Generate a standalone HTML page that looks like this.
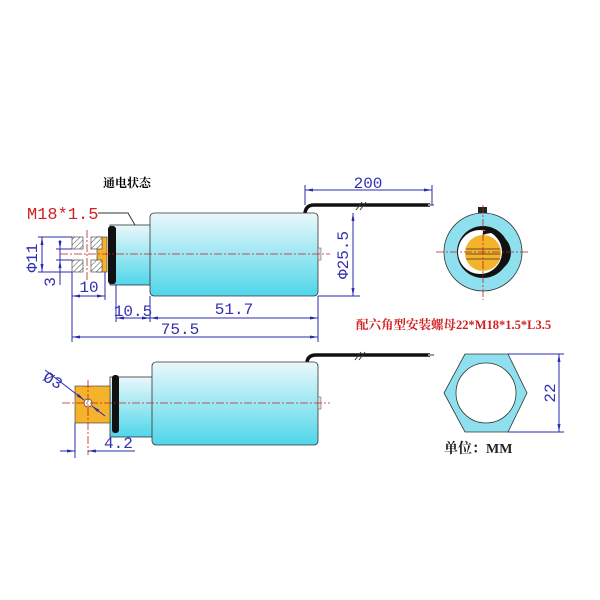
<!DOCTYPE html>
<html><head><meta charset="utf-8"><style>
body{margin:0;background:#fff;width:600px;height:600px;overflow:hidden}
svg{display:block}
.d{stroke:#2a2ab0;stroke-width:1;fill:none}
.t{font-family:"Liberation Mono","Liberation Serif",serif;fill:#3030b0;font-size:16px}
.r{stroke:#c02020;stroke-width:0.8;stroke-dasharray:8,2,2,2;fill:none}
</style></head><body>
<svg width="600" height="600" viewBox="0 0 600 600">
<defs>
<linearGradient id="g" x1="0" y1="0" x2="0" y2="1">
<stop offset="0" stop-color="#eaf8fb"/><stop offset="1" stop-color="#4fd6ea"/></linearGradient>
<pattern id="h" width="4" height="4" patternUnits="userSpaceOnUse" patternTransform="rotate(45)"><rect width="4" height="4" fill="#fff"/><line x1="0" y1="0" x2="0" y2="4" stroke="#444" stroke-width="1"/></pattern>
<marker id="a" markerWidth="8" markerHeight="6" refX="8" refY="3" orient="auto-start-reverse"><path d="M0,1.5L8,3L0,4.5z" fill="#2a2ab0"/></marker>
</defs>
<text x="103" y="187" font-family="Liberation Serif,'Noto Serif CJK SC',serif" font-size="12" font-weight="bold">通电状态</text>
<path d="M305,213 Q306,205 314,205 L430,205" stroke="#111" stroke-width="3.5" fill="none"/>
<line x1="428" y1="205" x2="434" y2="205" stroke="#999" stroke-width="2"/>
<path d="M356,210 L362,202 M360,210 L366,202" stroke="#333" stroke-width="1"/>
<rect x="110" y="225" width="42" height="60" fill="url(#g)" stroke="#333" stroke-width="0.8"/>
<rect x="108" y="226" width="8" height="58" rx="3" fill="#111"/>
<rect x="150" y="213" width="168" height="83" rx="4" fill="url(#g)" stroke="#333" stroke-width="0.8"/>
<rect x="318" y="248" width="3" height="12" fill="#ddd" stroke="#555" stroke-width="0.5"/>
<rect x="97" y="237" width="10" height="35" fill="#f4b32a" stroke="#333" stroke-width="0.6"/>
<rect x="72" y="237" width="11" height="12" fill="url(#h)" stroke="#333" stroke-width="0.6"/>
<rect x="72" y="260" width="11" height="12" fill="url(#h)" stroke="#333" stroke-width="0.6"/>
<rect x="91" y="237" width="11" height="12" fill="url(#h)" stroke="#333" stroke-width="0.6"/>
<rect x="91" y="260" width="11" height="12" fill="url(#h)" stroke="#333" stroke-width="0.6"/>
<line x1="60" y1="254" x2="330" y2="254" class="r"/>
<line x1="87" y1="230" x2="87" y2="280" class="r"/>
<g class="d">
<line x1="38" y1="237" x2="72" y2="237"/><line x1="38" y1="272" x2="72" y2="272"/>
<line x1="42" y1="237" x2="42" y2="272" marker-start="url(#a)" marker-end="url(#a)"/>
<line x1="56" y1="249" x2="72" y2="249"/><line x1="56" y1="260" x2="72" y2="260"/>
<line x1="60" y1="240" x2="60" y2="249" marker-end="url(#a)"/><line x1="60" y1="270" x2="60" y2="260" marker-end="url(#a)"/>
<line x1="60" y1="249" x2="60" y2="285"/>
<line x1="72" y1="272" x2="72" y2="342"/><line x1="105" y1="272" x2="105" y2="300"/>
<line x1="72" y1="296" x2="105" y2="296" marker-start="url(#a)" marker-end="url(#a)"/>
<line x1="116" y1="285" x2="116" y2="322"/><line x1="150" y1="296" x2="150" y2="322"/>
<line x1="318" y1="296" x2="318" y2="342"/>
<line x1="116" y1="318" x2="150" y2="318" marker-start="url(#a)" marker-end="url(#a)"/>
<line x1="150" y1="318" x2="318" y2="318" marker-start="url(#a)" marker-end="url(#a)"/>
<line x1="72" y1="337" x2="318" y2="337" marker-start="url(#a)" marker-end="url(#a)"/>
<line x1="305" y1="185" x2="305" y2="205"/><line x1="432" y1="185" x2="432" y2="205"/>
<line x1="305" y1="190" x2="432" y2="190" marker-start="url(#a)" marker-end="url(#a)"/>
<line x1="318" y1="296" x2="360" y2="296"/>
<line x1="353" y1="213" x2="353" y2="296" marker-start="url(#a)" marker-end="url(#a)"/>
<path d="M98,213 L128,213 L135,225" stroke="#333"/>
</g>
<text class="t" transform="translate(37,258) rotate(-90)" text-anchor="middle">Φ11</text>
<text class="t" transform="translate(55,282) rotate(-90)" text-anchor="middle">3</text>
<text class="t" x="89" y="292" text-anchor="middle">10</text>
<text class="t" x="133" y="316" text-anchor="middle" font-size="12">10.5</text>
<text class="t" x="234" y="314" text-anchor="middle" font-size="17">51.7</text>
<text class="t" x="180" y="334" text-anchor="middle" font-size="17">75.5</text>
<text class="t" x="368" y="188" text-anchor="middle" font-size="17">200</text>
<text class="t" transform="translate(348,255) rotate(-90)" text-anchor="middle" font-size="17">Φ25.5</text>
<text x="27" y="219" font-family="Liberation Mono,serif" font-size="17" fill="#d02020">M18*1.5</text>
<rect x="478" y="207" width="9" height="6" fill="#222"/>
<circle cx="483" cy="252" r="39" fill="#8ee0ee" stroke="#333" stroke-width="0.8"/>
<circle cx="483" cy="252" r="26" fill="#111"/>
<circle cx="480" cy="252" r="22" fill="#fff"/>
<path d="M483,231 A22,22 0 0 1 500,270 A18,18 0 0 0 483,235z" fill="#111"/>
<circle cx="483" cy="253" r="18" fill="#f4b32a"/>
<g stroke="#333" stroke-width="0.8"><line x1="466" y1="249" x2="500" y2="249"/><line x1="466" y1="254" x2="500" y2="254"/><line x1="466" y1="259" x2="500" y2="259"/></g>
<line x1="436" y1="252" x2="530" y2="252" class="r"/>
<line x1="483" y1="205" x2="483" y2="300" class="r"/>
<text x="356" y="329" font-family="Liberation Serif,'Noto Serif CJK SC',serif" font-size="12.5" font-weight="bold" fill="#d02020">配六角型安装螺母22*M18*1.5*L3.5</text>
<path d="M307,362 Q308,355 316,355 L430,355" stroke="#111" stroke-width="3.5" fill="none"/>
<line x1="428" y1="355" x2="434" y2="355" stroke="#999" stroke-width="2"/>
<path d="M355,360 L361,352 M359,360 L365,352" stroke="#333" stroke-width="1"/>
<rect x="110" y="377" width="44" height="60" fill="url(#g)" stroke="#333" stroke-width="0.8"/>
<rect x="112" y="375" width="7" height="58" rx="3" fill="#111"/>
<rect x="152" y="362" width="166" height="83" rx="4" fill="url(#g)" stroke="#333" stroke-width="0.8"/>
<rect x="318" y="397" width="3" height="12" fill="#ddd" stroke="#555" stroke-width="0.5"/>
<rect x="75" y="386" width="35" height="37" fill="#f4b32a" stroke="#333" stroke-width="0.6"/>
<circle cx="88" cy="403" r="4" fill="#fff" stroke="#333" stroke-width="0.7"/>
<line x1="62" y1="403" x2="330" y2="403" class="r"/>
<line x1="88" y1="380" x2="88" y2="455" class="r"/>
<g class="d">
<line x1="45" y1="370" x2="84" y2="400" marker-end="url(#a)"/><line x1="105" y1="416" x2="92" y2="406" marker-end="url(#a)"/>
<line x1="75" y1="423" x2="75" y2="458"/>
<line x1="60" y1="451" x2="75" y2="451" marker-end="url(#a)"/><line x1="135" y1="451" x2="88" y2="451" marker-end="url(#a)"/>
</g>
<text class="t" transform="translate(42,380) rotate(30)">Ø3</text>
<text class="t" x="104" y="448" font-size="17">4.2</text>
<polygon points="465,354 508,354 527,393 508,432 465,432 444,393" fill="#8ee0ee" stroke="#333" stroke-width="0.8"/>
<circle cx="486" cy="393" r="30" fill="#fff" stroke="#333" stroke-width="0.8"/>
<g class="d"><line x1="508" y1="354" x2="564" y2="354"/><line x1="508" y1="432" x2="564" y2="432"/>
<line x1="559" y1="354" x2="559" y2="432" marker-start="url(#a)" marker-end="url(#a)"/></g>
<text class="t" transform="translate(555,393) rotate(-90)" text-anchor="middle">22</text>
<text x="444" y="453" font-family="Liberation Serif,'Noto Serif CJK SC',serif" font-size="14" font-weight="bold" fill="#222">单位：MM</text>
</svg>
</body></html>
